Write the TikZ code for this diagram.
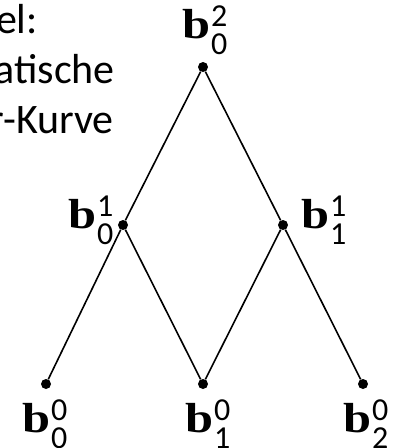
\documentclass[tikz,border=0pt]{standalone}
\usepackage{fontspec}
\setmainfont{Carlito}
\newfontfamily\bserif[FakeStretch=1.2]{Liberation Serif}
\newcommand{\bpt}[2]{{\bserif\bfseries b}\kern1pt%
  \rlap{\raisebox{-16pt}{\fontsize{32}{32}\selectfont #2}}%
  \raisebox{12pt}{\fontsize{32}{32}\selectfont #1}}

\begin{document}
\begin{tikzpicture}[x=1pt,y=-1pt,
  ptdot/.style={circle,fill,inner sep=0pt,minimum size=10pt},
  lbl/.style={font=\fontsize{42}{46}\selectfont,inner sep=0pt,anchor=base west},
  captext/.style={font=\fontsize{42}{50}\selectfont,inner sep=0pt,anchor=base east},
  seg/.style={line width=1.6pt}]
\useasboundingbox (0,0) rectangle (399,448);

% caption (cut at the left edge)
\node[captext] (capA) at (38,33) {el:};
\node[captext] (capB) at (115,83) {atische};
\node[captext] (capC) at (114,133) {r-Kurve};

% de Casteljau points
\node[ptdot] (b02) at (203,67) {};
\node[ptdot] (b01) at (123,225) {};
\node[ptdot] (b11) at (283,225) {};
\node[ptdot] (b00) at (46,384) {};
\node[ptdot] (b10) at (203,384) {};
\node[ptdot] (b20) at (363,384) {};

% labels
\node[lbl] (l02) at (182,38) {\bpt{2}{0}};
\node[lbl] (l01) at (68,228) {\bpt{1}{0}};
\node[lbl] (l11) at (301,228) {\bpt{1}{1}};
\node[lbl] (l00) at (22,432) {\bpt{0}{0}};
\node[lbl] (l10) at (185,432) {\bpt{0}{1}};
\node[lbl] (l20) at (343,432) {\bpt{0}{2}};

% connections
\draw[seg] (b00) -- (b01) -- (b02) -- (b11) -- (b20);
\draw[seg] (b01) -- (b10) -- (b11);
\end{tikzpicture}
\end{document}
